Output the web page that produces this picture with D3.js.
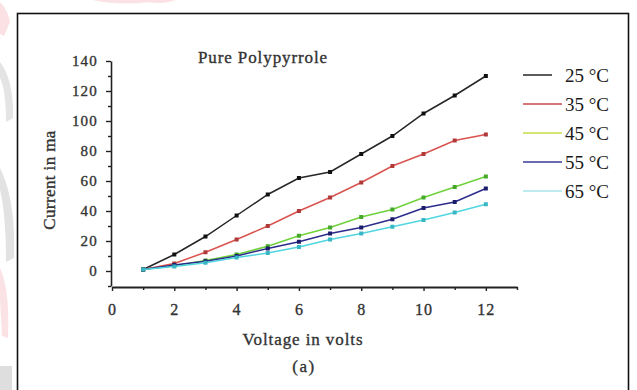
<!DOCTYPE html>
<html>
<head>
<meta charset="utf-8">
<script src="https://cdn.jsdelivr.net/npm/d3@7/dist/d3.min.js"></script>
<style>
  html, body { margin: 0; padding: 0; background: #fff; }
  svg { display: block; }
</style>
</head>
<body>
<svg id="chart" width="637" height="390"></svg>
<script>
// Applied voltage (V)
const voltages = [1, 2, 3, 4, 5, 6, 7, 8, 9, 10, 11, 12];

// Measured current (mA) for each temperature
const current25 = [1, 11, 23, 37, 51, 62, 66, 78, 90, 105, 117, 130];
const current35 = [1, 5, 12.5, 21, 30, 40, 49, 59, 70, 78, 87, 91];
const current45 = [1, 3.5, 7, 11, 16.5, 23.5, 29, 36, 41, 49, 56, 63];
const current55 = [1, 4, 6.5, 10, 15, 19.5, 25, 29, 34.5, 42, 46, 55];
const current65 = [1, 3, 5.5, 9, 12, 16, 21, 25, 29.5, 34, 39, 44.5];

const seriesLabels = ["25 °C", "35 °C", "45 °C", "55 °C", "65 °C"];
const seriesValues = [current25, current35, current45, current55, current65];
const lineColors = ["#262626", "#d9534f", "#6fd23a", "#2c2c8c", "#4fd6e0"];
const markerColors = ["#111111", "#b03a3a", "#45a82a", "#1c1c6a", "#38b6c4"];
const legendColors = ["#262626", "#c9484e", "#c8da4a", "#3a3a96", "#a8e4ea"];

const xMajorTicks = [0, 2, 4, 6, 8, 10, 12];
const xMinorTicks = [1, 3, 5, 7, 9, 11, 13];
const yMajorTicks = [0, 20, 40, 60, 80, 100, 120, 140];
const yMinorTicks = [-10, 10, 30, 50, 70, 90, 110, 130];

const svg = d3.select("#chart");
const serif = '"Liberation Serif", "Times New Roman", serif';

// soft text styling shared by all labels
function label(sel, size, spacing) {
  return sel.style("font-family", serif)
    .style("font-size", size + "px")
    .style("letter-spacing", spacing + "px")
    .attr("fill", "#333")
    .attr("stroke", "#333")
    .attr("stroke-width", 0.35);
}

// faint page decoration along the left margin
const deco = svg.append("g");
deco.append("path").attr("d", "M0,2 Q8,10 10,22 L4,36 L0,34 Z").attr("fill", "#fbe1e3");
deco.append("path").attr("d", "M0,62 Q14,80 13,118 L6,122 Q6,90 0,78 Z").attr("fill", "#e4e4e4");
deco.append("path").attr("d", "M0,168 Q16,200 14,258 L6,262 Q6,214 0,190 Z").attr("fill", "#e2e2e2");
deco.append("path").attr("d", "M0,268 Q10,290 8,338 L2,336 L0,300 Z").attr("fill", "#fbe3e5");
deco.append("rect").attr("x", 0).attr("y", 366).attr("width", 12).attr("height", 24).attr("fill", "#dedede");
deco.append("path").attr("d", "M92,0 Q120,6 150,2 L150,0 Z").attr("fill", "#fbe3e5");
deco.append("path").attr("d", "M138,0 Q160,6 176,0 Z").attr("fill", "#fbe1e3");

// figure frame
svg.append("rect")
  .attr("x", 17.5).attr("y", 13.5)
  .attr("width", 611).attr("height", 400)
  .attr("fill", "#fff")
  .attr("stroke", "#111").attr("stroke-width", 1.6);

const x = d3.scaleLinear().domain([0, 13]).range([112, 517]);
const y = d3.scaleLinear().domain([-10, 140]).range([286, 61]);

// y axis: labelled ticks every 20, minor every 10
const yAxis = svg.append("g").attr("transform", `translate(${x(0) - 1},0)`)
  .call(d3.axisLeft(y).tickValues(yMajorTicks).tickSize(5).tickPadding(8).tickSizeOuter(0));
yAxis.select(".domain").attr("stroke", "#222").attr("stroke-width", 1.6);
yAxis.selectAll(".tick line").attr("stroke", "#222").attr("stroke-width", 1.4);
label(yAxis.selectAll(".tick text"), 15, 1.2);

const yMinor = svg.append("g").attr("transform", `translate(${x(0) - 1},0)`)
  .call(d3.axisLeft(y).tickValues(yMinorTicks).tickSize(3).tickFormat(""));
yMinor.select(".domain").remove();
yMinor.selectAll(".tick line").attr("stroke", "#222").attr("stroke-width", 1.4);

// x axis: labelled ticks every 2 V, minor every 1 V
const xAxis = svg.append("g").attr("transform", `translate(0,${y(-10) + 1})`)
  .call(d3.axisBottom(x).tickValues(xMajorTicks).tickSize(4).tickPadding(13).tickSizeOuter(0));
xAxis.select(".domain").attr("stroke", "#222").attr("stroke-width", 2);
xAxis.selectAll(".tick line").attr("stroke", "#222").attr("stroke-width", 1.4);
label(xAxis.selectAll(".tick text"), 16, 1);

const xMinor = svg.append("g").attr("transform", `translate(0,${y(-10) + 1})`)
  .call(d3.axisBottom(x).tickValues(xMinorTicks).tickSize(3).tickFormat(""));
xMinor.select(".domain").remove();
xMinor.selectAll(".tick line").attr("stroke", "#222").attr("stroke-width", 1.4);

// series lines with square markers
const line = d3.line().x((d, i) => x(voltages[i])).y(d => y(d));
seriesValues.forEach((vals, s) => {
  const g = svg.append("g");
  g.append("path")
    .attr("d", line(vals))
    .attr("fill", "none")
    .attr("stroke", lineColors[s])
    .attr("stroke-width", 1.5);
  g.selectAll("rect").data(vals).join("rect")
    .attr("x", (d, i) => x(voltages[i]) - 2)
    .attr("y", d => y(d) - 2)
    .attr("width", 4).attr("height", 4)
    .attr("fill", markerColors[s]);
});

// titles
label(svg.append("text"), 17, 0.9)
  .attr("x", 263).attr("y", 63)
  .attr("text-anchor", "middle")
  .text("Pure Polypyrrole");

label(svg.append("text"), 17, 0.9)
  .attr("x", 303).attr("y", 345)
  .attr("text-anchor", "middle")
  .text("Voltage in volts");

label(svg.append("text"), 17, 1.5)
  .attr("x", 304).attr("y", 372)
  .attr("text-anchor", "middle")
  .text("(a)");

label(svg.append("text"), 17, 0.4)
  .attr("transform", "translate(55,180) rotate(-90)")
  .attr("text-anchor", "middle")
  .text("Current in ma");

// legend
const legend = svg.append("g");
seriesLabels.forEach((name, s) => {
  const ly = 75 + s * 29;
  legend.append("line")
    .attr("x1", 523).attr("x2", s === 0 ? 552 : 562)
    .attr("y1", ly).attr("y2", ly)
    .attr("stroke", legendColors[s]).attr("stroke-width", 1.5);
  legend.append("text")
    .attr("x", 565).attr("y", ly + 7)
    .style("font-family", serif).style("font-size", "19px")
    .attr("fill", "#1a1a1a")
    .text(name);
});
</script>
</body>
</html>
